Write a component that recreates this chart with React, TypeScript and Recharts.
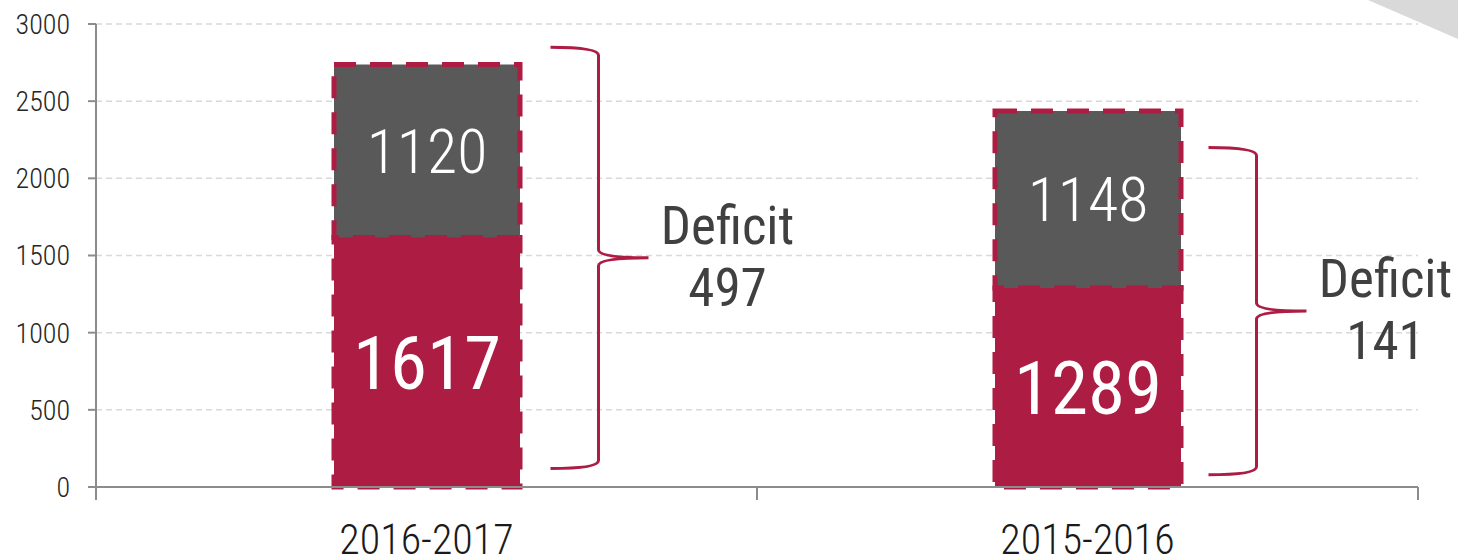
import React from "react";
import {
	BarChart,
	Bar,
	XAxis,
	YAxis,
	CartesianGrid,
	LabelList,
	ReferenceArea,
} from "recharts";

const categories = ["2016-2017", "2015-2016"];
const income = [1617, 1289];
const shortfall = [1120, 1148];
const deficits = [497, 141];
const braceTop = [2850, 2200];
const braceBottom = [120, 80];
const yTicks = [0, 500, 1000, 1500, 2000, 2500, 3000];

const RED = "#ad1c42";
const GREY = "#595959";
const AXIS = "#8c8c8c";
const FONT =
	"'Roboto Condensed', 'Liberation Sans Narrow', 'Arial Narrow', 'DejaVu Sans Condensed', sans-serif";

// how far right of the band centre each brace starts (px)
const braceOffsets = [124, 121];
const TICK_GAP = 38;

const data = categories.map((name, i) => ({
	name,
	income: income[i],
	shortfall: shortfall[i],
}));

function Brace(props: any) {
	const { x, y, width, height, idx } = props;
	const x0 = x + width / 2 + braceOffsets[idx];
	const xv = x0 + 48;
	const top = y;
	const bottom = y + height;
	const mid = (top + bottom) / 2;
	const tip = x0 + 98;
	const d = [
		`M ${x0} ${top}`,
		`Q ${xv} ${top} ${xv} ${top + 8}`,
		`L ${xv} ${mid - 8}`,
		`Q ${xv} ${mid} ${tip} ${mid}`,
		`Q ${xv} ${mid} ${xv} ${mid + 8}`,
		`L ${xv} ${bottom - 8}`,
		`Q ${xv} ${bottom} ${x0} ${bottom}`,
	].join(" ");
	return (
		<g>
			<path d={d} fill="none" stroke={RED} strokeWidth={3} />
			<text
				x={tip + 79}
				y={mid - 14}
				textAnchor="middle"
				fontSize={53}
				fill="#404040"
				fontFamily={FONT}
			>
				Deficit
			</text>
			<text
				x={tip + 79}
				y={mid + 48}
				textAnchor="middle"
				fontSize={53}
				fill="#404040"
				fontFamily={FONT}
			>
				{deficits[idx]}
			</text>
		</g>
	);
}

// category label plus tick marks on the band edges (Excel style)
function CatTick(props: any) {
	const { x, y, payload } = props;
	const half = payload && payload.offset ? payload.offset : 330;
	const axisY = y - TICK_GAP;
	return (
		<g>
			<line x1={x - half} x2={x - half} y1={axisY} y2={axisY + 13} stroke={AXIS} strokeWidth={2} />
			<line x1={x + half} x2={x + half} y1={axisY} y2={axisY + 13} stroke={AXIS} strokeWidth={2} />
			<text
				x={x}
				y={y + 29}
				textAnchor="middle"
				fontSize={42}
				fontWeight={300}
				fill="#1a1a1a"
				fontFamily={FONT}
			>
				{payload.value}
			</text>
		</g>
	);
}

export default function App() {
	return (
		<div style={{ position: "absolute", left: 0, top: 0, fontFamily: FONT }}>
			<svg
				width={1458}
				height={559}
				style={{ position: "absolute", left: 0, top: 0 }}
			>
				<polygon points="1368,0 1458,0 1458,39" fill="#d9d9d9" />
			</svg>
			<BarChart
				width={1458}
				height={559}
				data={data}
				margin={{ top: 24, right: 40, bottom: 0, left: 0 }}
				barSize={186}
				style={{ fontFamily: FONT }}
			>
				<CartesianGrid
					vertical={false}
					stroke="#d9d9d9"
					strokeDasharray="6 4"
					strokeWidth={1.5}
				/>
				<XAxis
					xAxisId="cat"
					dataKey="name"
					stroke={AXIS}
					strokeWidth={2}
					tickLine={false}
					tickSize={0}
					tickMargin={TICK_GAP}
					height={72}
					tick={<CatTick />}
				/>
				<YAxis
					domain={[0, 3000]}
					ticks={yTicks}
					width={96}
					tickSize={8}
					tickMargin={18}
					stroke={AXIS}
					strokeWidth={2}
					tick={{ fontSize: 28, fontWeight: 300, fill: "#262626", fontFamily: FONT }}
				/>
				<Bar
					xAxisId="cat"
					dataKey="income"
					stackId="a"
					fill={RED}
					stroke={RED}
					strokeWidth={5}
					strokeDasharray="22 14"
					isAnimationActive={false}
				>
					<LabelList
						dataKey="income"
						position="center"
						fill="#ffffff"
						fontSize={75}
						fontFamily={FONT}
					/>
				</Bar>
				<Bar
					xAxisId="cat"
					dataKey="shortfall"
					stackId="a"
					fill={GREY}
					stroke={RED}
					strokeWidth={5}
					strokeDasharray="22 14"
					isAnimationActive={false}
				>
					<LabelList
						dataKey="shortfall"
						position="center"
						fill="#ffffff"
						fontSize={62}
						fontWeight={300}
						fontFamily={FONT}
					/>
				</Bar>
				{categories.map((c, i) => (
					<ReferenceArea
						key={c}
						xAxisId="cat"
						x1={c}
						x2={c}
						y1={braceBottom[i]}
						y2={braceTop[i]}
						ifOverflow="visible"
						shape={(p: any) => <Brace {...p} idx={i} />}
					/>
				))}
			</BarChart>
		</div>
	);
}
